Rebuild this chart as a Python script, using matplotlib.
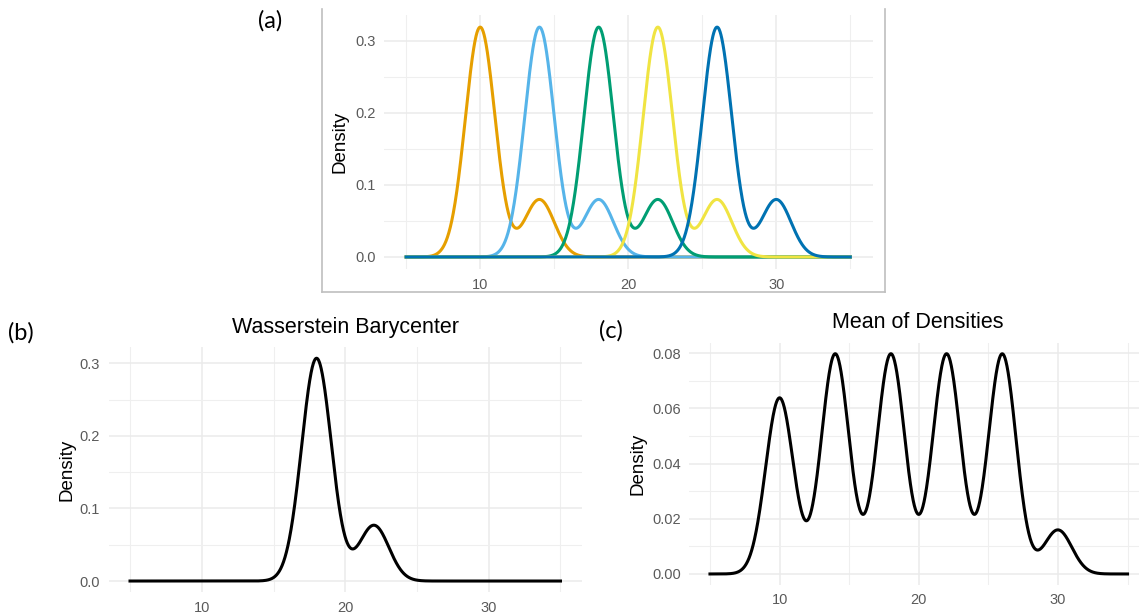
import numpy as np
import matplotlib.pyplot as plt
from matplotlib.lines import Line2D

plt.rcParams['font.family'] = ['Liberation Sans', 'DejaVu Sans']

W, H = 1139, 613

# five two-bump densities: main mode + smaller bump 4 units to the right
main_modes = [10, 14, 18, 22, 26]
bump_shift = 4
mode_weights = [0.8, 0.2]
mode_sd = 1.0
colors = ["#E69F00", "#56B4E9", "#009E73", "#F0E442", "#0072B2"]

# barycenter
bary_modes = [18, 22]
bary_weights = [0.8, 0.2]
bary_sd = 1.04

x = np.linspace(5, 35, 1501)


def normal(x, mu, sd):
    return np.exp(-0.5 * ((x - mu) / sd) ** 2) / (sd * np.sqrt(2 * np.pi))


densities = []
for m in main_modes:
    densities.append(mode_weights[0] * normal(x, m, mode_sd)
                     + mode_weights[1] * normal(x, m + bump_shift, mode_sd))
mean_density = np.mean(densities, axis=0)
bary = sum(w * normal(x, m, bary_sd) for m, w in zip(bary_modes, bary_weights))


def px_axes(fig, left, top, right, bottom):
    return fig.add_axes([left / W, 1 - bottom / H, (right - left) / W, (bottom - top) / H])


def style(ax, ylim, yticks, yminor, labels, xpad, ypad):
    ax.set_xlim(3.5, 36.5)
    ax.set_ylim(*ylim)
    ax.set_xticks([10, 20, 30])
    ax.set_xticks([5, 15, 25, 35], minor=True)
    ax.set_yticks(yticks)
    ax.set_yticklabels(labels)
    ax.set_yticks(yminor, minor=True)
    ax.grid(True, which='major', color='#EBEBEB', lw=1.1)
    ax.grid(True, which='minor', color='#EFEFEF', lw=0.8)
    ax.set_axisbelow(True)
    for s in ax.spines.values():
        s.set_visible(False)
    ax.tick_params(which='both', length=0, labelsize=10.5, labelcolor='#5A5A5A')
    ax.tick_params(axis='x', pad=xpad)
    ax.tick_params(axis='y', pad=ypad)


fig = plt.figure(figsize=(W / 100, H / 100), dpi=100)

# (a)
ax1 = px_axes(fig, 384, 15, 872.5, 268.5)
for d, c in zip(densities, colors):
    ax1.plot(x, d, color=c, lw=2.2)
style(ax1, (-0.016, 0.336), [0, 0.1, 0.2, 0.3], [0.05, 0.15, 0.25],
      ["0.0", "0.1", "0.2", "0.3"], 7, 6)
ax1.text((340 - 384) / 488.5, 0.5, "Density", transform=ax1.transAxes, rotation=90,
         ha='center', va='center', fontsize=13.5)

# box around (a)
box = dict(color='#BFBFBF', lw=1.2, transform=fig.transFigure)
fig.add_artist(Line2D([322 / W, 322 / W], [1 - 9 / H, 1 - 292 / H], **box))
fig.add_artist(Line2D([885 / W, 885 / W], [1 - 9 / H, 1 - 292 / H], **box))
fig.add_artist(Line2D([322 / W, 885 / W], [1 - 292 / H, 1 - 292 / H], **box))

# (b)
ax2 = px_axes(fig, 108.5, 347.3, 582, 592.2)
ax2.plot(x, bary, color='black', lw=2.2)
style(ax2, (-0.0154, 0.322), [0, 0.1, 0.2, 0.3], [0.05, 0.15, 0.25],
      ["0.0", "0.1", "0.2", "0.3"], 6, 6)
ax2.text((67 - 108.5) / 473.5, 0.5, "Density", transform=ax2.transAxes, rotation=90,
         ha='center', va='center', fontsize=13.5)
fig.text(345.6 / W, 1 - 328 / H, "Wasserstein Barycenter", ha='center', va='center', fontsize=15.5)

# (c)
ax3 = px_axes(fig, 689.1, 342.8, 1148.4, 585)
ax3.plot(x, mean_density, color='black', lw=2.2)
style(ax3, (-0.004, 0.0838), [0, 0.02, 0.04, 0.06, 0.08], [0.01, 0.03, 0.05, 0.07],
      ["0.00", "0.02", "0.04", "0.06", "0.08"], 6, 6)
ax3.text((638 - 689.1) / 459.3, 0.5, "Density", transform=ax3.transAxes, rotation=90,
         ha='center', va='center', fontsize=13.5)
fig.text(918 / W, 1 - 323 / H, "Mean of Densities", ha='center', va='center', fontsize=15.5)

# panel tags
tag = dict(ha='center', va='center', fontsize=17, family=['Lato', 'DejaVu Sans'])
fig.text(270 / W, 1 - 21 / H, "(a)", **tag)
fig.text(21 / W, 1 - 333 / H, "(b)", **tag)
fig.text(611 / W, 1 - 331 / H, "(c)", **tag)

fig.savefig("out.png", dpi=100)
